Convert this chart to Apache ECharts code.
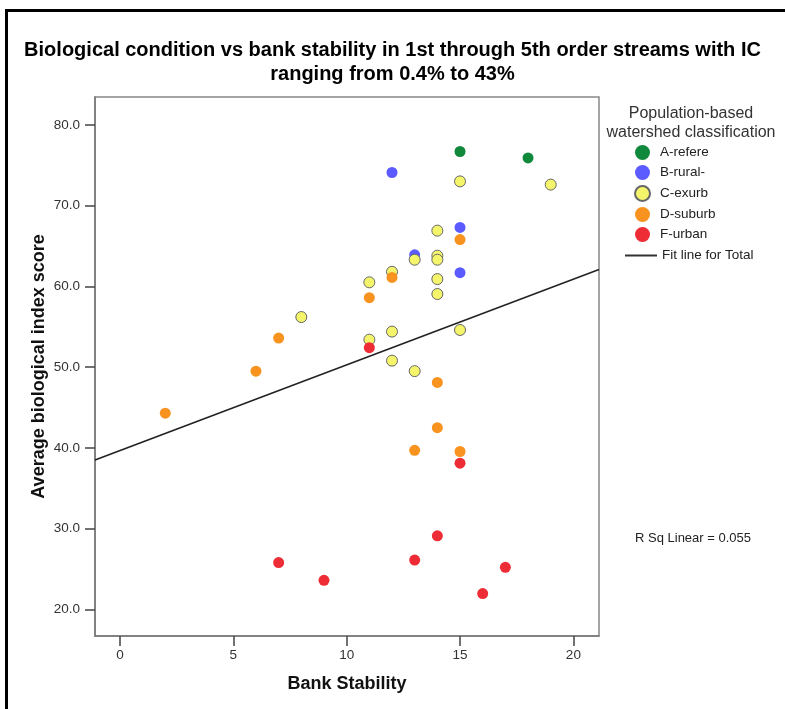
<!DOCTYPE html>
<html>
<head>
<meta charset="utf-8">
<script src="https://cdn.jsdelivr.net/npm/echarts@6/dist/echarts.min.js"></script>
<style>
html,body{margin:0;padding:0;background:#fff;}
#chart{width:785px;height:709px;}
</style>
</head>
<body>
<div id="chart"></div>
<script>
// ---- data ----
const seriesNames = ['A-refere', 'B-rural-', 'C-exurb', 'D-suburb', 'F-urban'];
const xA = [15, 18];
const yA = [76.7, 75.9];
const xB = [12, 15, 15, 13];
const yB = [74.1, 67.3, 61.7, 63.9];
const xC = [15, 19, 14, 14, 14, 13, 12, 11, 14, 14, 8, 12, 15, 11, 12, 13];
const yC = [73.0, 72.6, 66.9, 63.8, 63.3, 63.3, 61.8, 60.5, 60.9, 59.05, 56.2, 54.4, 54.6, 53.4, 50.8, 49.5];
const xD = [12, 11, 15, 7, 6, 2, 14, 14, 13, 15];
const yD = [61.1, 58.6, 65.8, 53.6, 49.5, 44.3, 48.1, 42.5, 39.7, 39.55];
const xF = [11, 15, 14, 7, 9, 13, 17, 16];
const yF = [52.4, 38.1, 29.1, 25.8, 23.6, 26.1, 25.2, 21.95];
const fitX = [-1.1, 21.13];
const fitY = [38.5, 62.1];
const xTicks = [0, 5, 10, 15, 20];
const yTicks = [20, 30, 40, 50, 60, 70, 80];
const rSqText = 'R Sq Linear = 0.055';
const titleText = 'Biological condition vs bank stability in 1st through 5th order streams with IC\nranging from 0.4% to 43%';
const legendTitle = 'Population-based\nwatershed classification';
const fitName = 'Fit line for Total';

const colors = ['#11893c', '#5b5bff', '#f5f56c', '#f7931e', '#ee2c36'];
const xs = [xA, xB, xC, xD, xF];
const ys = [yA, yB, yC, yD, yF];

function pairs(x, y) { return x.map((v, i) => [v, y[i]]); }

const FONT = '"Liberation Sans", Arial, sans-serif';

const scatterSeries = seriesNames.map((name, i) => ({
  name: name,
  type: 'scatter',
  symbol: 'circle',
  symbolSize: 11,
  data: pairs(xs[i], ys[i]),
  itemStyle: {
    color: colors[i],
    opacity: 1,
    borderColor: i === 2 ? '#666' : colors[i],
    borderWidth: i === 2 ? 1 : 0
  },
  z: 3 + i
}));

const chart = echarts.init(document.getElementById('chart'), null, { renderer: 'canvas' });
chart.setOption({
  animation: false,
  backgroundColor: '#fff',
  textStyle: { fontFamily: FONT },
  title: {
    text: titleText,
    left: 'center',
    top: 38,
    padding: [0, 0, 0, 9],
    textStyle: { fontFamily: FONT, fontSize: 20, fontWeight: 'bold', color: '#000', lineHeight: 24 }
  },
  grid: {
    left: 95, right: 186, top: 97, bottom: 73,
    show: true, borderColor: '#888', borderWidth: 1.5, backgroundColor: '#fff'
  },
  legend: [{
    data: seriesNames,
    orient: 'vertical',
    left: 634,
    top: 145,
    padding: 0,
    itemWidth: 15,
    itemHeight: 15,
    itemGap: 5,
    icon: 'circle',
    selectedMode: false,
    itemStyle: { opacity: 1 },
    textStyle: { fontFamily: FONT, fontSize: 13.5, color: '#222', lineHeight: 15, padding: [0, 0, 0, 5] }
  }, {
    data: [fitName],
    orient: 'vertical',
    left: 625,
    top: 248,
    padding: 0,
    itemWidth: 32,
    itemHeight: 15,
    icon: 'path://M0,6.5L32,6.5L32,8.5L0,8.5Z',
    selectedMode: false,
    textStyle: { fontFamily: FONT, fontSize: 13.5, color: '#222', lineHeight: 15 }
  }],
  xAxis: {
    type: 'value',
    min: -1.1,
    max: 21.13,
    name: 'Bank Stability',
    nameLocation: 'middle',
    nameGap: 39,
    nameMoveOverlap: false,
    nameTextStyle: { fontFamily: FONT, fontSize: 18, fontWeight: 'bold', color: '#111' },
    axisLine: { show: true, onZero: false, lineStyle: { color: '#777', width: 1.5 } },
    axisTick: { show: true, length: 10, customValues: xTicks, lineStyle: { color: '#444', width: 1.5 } },
    axisLabel: { customValues: xTicks, margin: 12, fontFamily: FONT, fontSize: 13.5, color: '#333' },
    splitLine: { show: false }
  },
  yAxis: {
    type: 'value',
    min: 16.7,
    max: 83.45,
    name: 'Average biological index score',
    nameLocation: 'middle',
    nameGap: 47,
    nameMoveOverlap: false,
    nameTextStyle: { fontFamily: FONT, fontSize: 18, fontWeight: 'bold', color: '#111' },
    axisLine: { show: true, onZero: false, lineStyle: { color: '#777', width: 1.5 } },
    axisTick: { show: true, length: 10, customValues: yTicks, lineStyle: { color: '#444', width: 1.5 } },
    axisLabel: {
      customValues: yTicks, margin: 15, fontFamily: FONT, fontSize: 13.5, color: '#333',
      formatter: v => Number(v).toFixed(1)
    },
    splitLine: { show: false }
  },
  series: [{
    name: fitName,
    type: 'line',
    data: pairs(fitX, fitY),
    symbol: 'none',
    showSymbol: false,
    lineStyle: { color: '#222', width: 1.6 },
    itemStyle: { color: '#333' },
    z: 2
  }].concat(scatterSeries),
  graphic: [{
    type: 'rect',
    shape: { x: 6.5, y: 10.5, width: 900, height: 900 },
    style: { fill: null, stroke: '#000', lineWidth: 3 },
    silent: true,
    z: 100
  }, {
    type: 'text',
    x: 691,
    y: 104,
    style: {
      text: legendTitle,
      fontFamily: FONT, fontSize: 16, fill: '#333',
      align: 'center', verticalAlign: 'top', lineHeight: 19
    }
  }, {
    type: 'text',
    x: 693,
    y: 538,
    style: {
      text: rSqText,
      fontFamily: FONT, fontSize: 13, fill: '#222',
      align: 'center', verticalAlign: 'middle'
    }
  }]
});
</script>
</body>
</html>
